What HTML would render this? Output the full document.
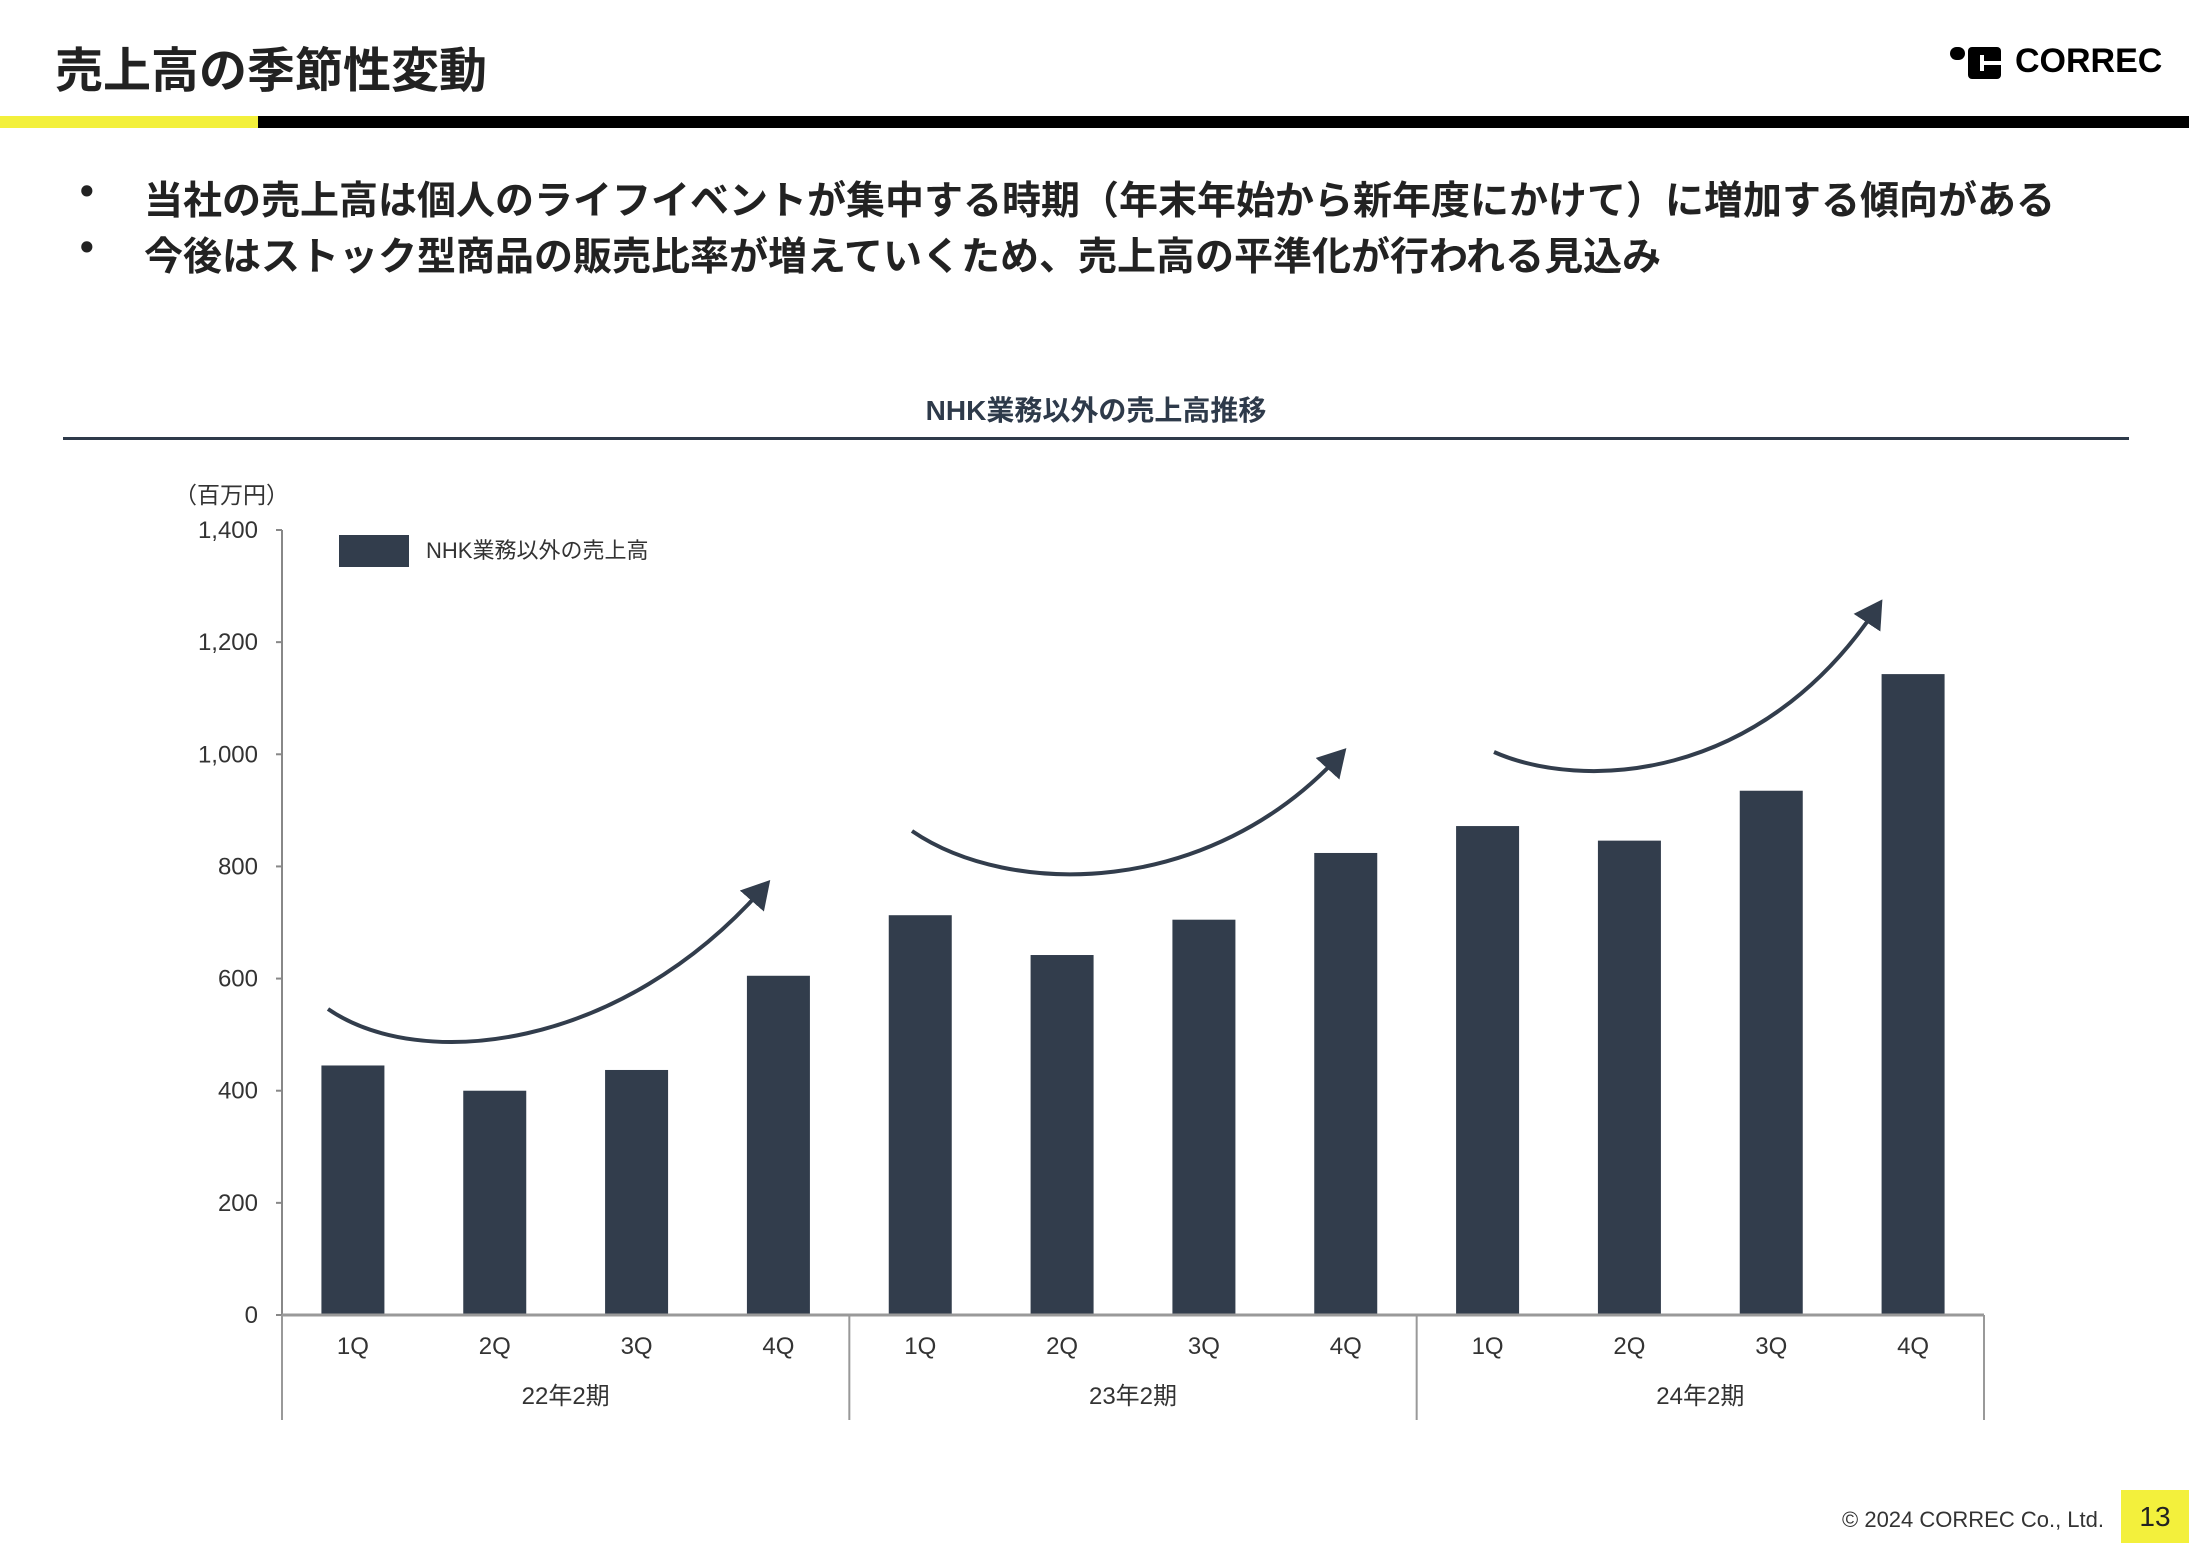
<!DOCTYPE html>
<html><head><meta charset="utf-8"><style>
html,body{margin:0;padding:0;background:#fff;}
body{width:2189px;height:1543px;position:relative;overflow:hidden;font-family:"Liberation Sans","Noto Sans CJK JP",sans-serif;color:#222;}
.abs{position:absolute;white-space:nowrap;}
</style></head><body>
<div class="abs" style="left:55px;top:31px;font-size:48px;font-weight:bold;color:#222;">売上高の季節性変動</div>
<div class="abs" style="left:1950px;top:44px;">
  <div style="position:absolute;left:0;top:3px;width:15px;height:13px;border-radius:7px;background:#000;"></div>
  <div style="position:absolute;left:18px;top:3px;width:33px;height:32px;border-radius:4px;background:#000;"></div>
  <div style="position:absolute;left:30px;top:11px;width:4px;height:16px;background:#fff;"></div>
  <div style="position:absolute;left:34px;top:17px;width:17px;height:4px;background:#fff;"></div>
  <div style="position:absolute;left:65px;top:-2px;font-size:34px;font-weight:bold;color:#000;">CORREC</div>
</div>
<div class="abs" style="left:0;top:116px;width:258px;height:12px;background:#f3f03c;"></div>
<div class="abs" style="left:258px;top:116px;width:1931px;height:12px;background:#000;"></div>
<div class="abs" style="left:0;top:170px;font-size:39px;font-weight:bold;color:#222;"><span style="position:absolute;left:80px;">•</span><span style="position:absolute;left:144px;">当社の売上高は個人のライフイベントが集中する時期（年末年始から新年度にかけて）に増加する傾向がある</span></div>
<div class="abs" style="left:0;top:226px;font-size:39px;font-weight:bold;color:#222;"><span style="position:absolute;left:80px;">•</span><span style="position:absolute;left:144px;">今後はストック型商品の販売比率が増えていくため、売上高の平準化が行われる見込み</span></div>
<div class="abs" style="left:0;width:2192px;text-align:center;top:389px;font-size:28px;font-weight:bold;color:#2e3a4a;">NHK業務以外の売上高推移</div>
<div class="abs" style="left:63px;top:437px;width:2066px;height:3px;background:#2e3a4a;"></div>

<svg id="chart" width="2189" height="1543" style="position:absolute;left:0;top:0;" xmlns="http://www.w3.org/2000/svg"></svg>

<div class="abs" style="right:85px;top:1507px;font-size:22px;color:#333;">© 2024 CORREC Co., Ltd.</div>
<div class="abs" style="left:2121px;top:1490px;width:68px;height:53px;background:#f3f03c;font-size:28px;line-height:53px;text-align:center;color:#222;">13</div>

<script>
const categories = ["1Q","2Q","3Q","4Q","1Q","2Q","3Q","4Q","1Q","2Q","3Q","4Q"];
const groups = ["22年2期","23年2期","24年2期"];
const values = [445,400,437,605,713,642,705,824,872,846,935,1143];
const yTicks = [0,200,400,600,800,1000,1200,1400];
const yTickLabels = ["0","200","400","600","800","1,000","1,200","1,400"];

const NS = "http://www.w3.org/2000/svg";
const svg = document.getElementById("chart");
const X0 = 282, X1 = 1984, Y0 = 1315, Y1 = 530, YMAX = 1400;
const band = (X1 - X0) / categories.length;
const barW = 63;
function yScale(v){ return Y0 - (v / YMAX) * (Y0 - Y1); }
function xCenter(i){ return X0 + band * (i + 0.5); }
function mk(tag, attrs){ const e = document.createElementNS(NS, tag); for (const k in attrs) e.setAttribute(k, attrs[k]); svg.appendChild(e); return e; }

let ax = mk("line",{x1:X0,y1:Y1,x2:X0,y2:Y0,stroke:"#888","stroke-width":2});


yTicks.forEach((t, i) => {
  const y = yScale(t);
  const tk = mk("line",{x1:X0-6,y1:y,x2:X0,y2:y,stroke:"#888","stroke-width":2});
  
  
  const lb = mk("text",{x:X0-24,y:y+8,"text-anchor":"end","font-size":24,fill:"#333"});
  lb.textContent = yTickLabels[i];
  
  
});
const unit = mk("text",{x:174,y:503,"font-size":23,fill:"#333"});
unit.textContent = "（百万円）";



values.forEach((v, i) => {
  const y = yScale(v);
  const r = mk("rect",{x:xCenter(i)-barW/2,y:y,width:barW,height:Y0-y,fill:"#323d4c"});
  
  
});

const xa = mk("line",{x1:X0,y1:Y0,x2:X1,y2:Y0,stroke:"#999","stroke-width":3});


categories.forEach((c, i) => {
  const t = mk("text",{x:xCenter(i),y:1354,"text-anchor":"middle","font-size":24,fill:"#333"});
  t.textContent = c;
  
  
});
const per = categories.length / groups.length;
for (let g = 0; g <= groups.length; g++) {
  const x = X0 + band * per * g;
  const d = mk("line",{x1:x,y1:Y0,x2:x,y2:1420,stroke:"#999","stroke-width":2});
  
  
}
groups.forEach((gname, g) => {
  const t = mk("text",{x:X0 + band*per*(g+0.5),y:1404,"text-anchor":"middle","font-size":24,fill:"#333"});
  t.textContent = gname;
  
  
});

const lr = mk("rect",{x:339,y:535,width:70,height:32,fill:"#323d4c"});


const lt = mk("text",{x:426,y:558,"font-size":22,fill:"#333"});
lt.textContent = "NHK業務以外の売上高";



const defs = mk("defs",{});
const m = document.createElementNS(NS,"marker");
m.setAttribute("id","ah"); m.setAttribute("markerWidth","8"); m.setAttribute("markerHeight","8");
m.setAttribute("refX","5"); m.setAttribute("refY","4"); m.setAttribute("orient","auto"); m.setAttribute("markerUnits","strokeWidth");
const mp = document.createElementNS(NS,"path"); mp.setAttribute("d","M0,0 L7,4 L0,8 Z"); mp.setAttribute("fill","#323d4c");
m.appendChild(mp); defs.appendChild(m);
const arrows = ["M328,1009 C420,1072 620,1052 765,886","M912,831 C1010,898 1210,898 1341,754","M1494,752 C1580,790 1760,785 1878,606"];
arrows.forEach((d) => {
  const p = mk("path",{d:d,fill:"none",stroke:"#323d4c","stroke-width":4,"marker-end":"url(#ah)"});
  
  
});
</script>
</body></html>
